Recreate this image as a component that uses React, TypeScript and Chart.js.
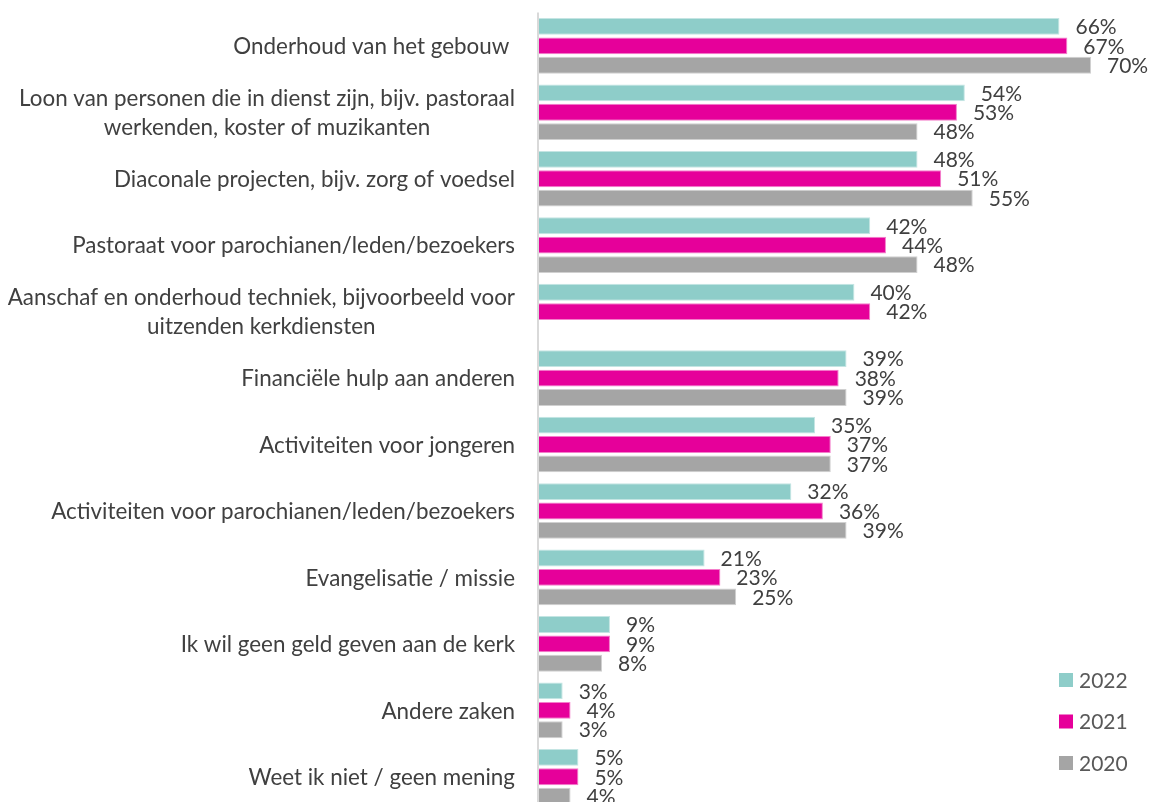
import React, { useEffect, useRef } from "react";
import { Chart, registerables } from "chart.js";

Chart.register(...registerables);

const categories: string[][] = [
  ["Onderhoud van het gebouw "],
  ["Loon van personen die in dienst zijn, bijv. pastoraal", "werkenden, koster of muzikanten"],
  ["Diaconale projecten, bijv. zorg of voedsel"],
  ["Pastoraat voor parochianen/leden/bezoekers"],
  ["Aanschaf en onderhoud techniek, bijvoorbeeld voor", "uitzenden kerkdiensten"],
  ["Financiële hulp aan anderen"],
  ["Activiteiten voor jongeren"],
  ["Activiteiten voor parochianen/leden/bezoekers"],
  ["Evangelisatie / missie"],
  ["Ik wil geen geld geven aan de kerk"],
  ["Andere zaken"],
  ["Weet ik niet / geen mening"],
];

const seriesLabels = ["2022", "2021", "2020"];
const values2022: (number | null)[] = [66, 54, 48, 42, 40, 39, 35, 32, 21, 9, 3, 5];
const values2021: (number | null)[] = [67, 53, 51, 44, 42, 38, 37, 36, 23, 9, 4, 5];
const values2020: (number | null)[] = [70, 48, 55, 48, null, 39, 37, 39, 25, 8, 3, 4];

const colors = ["#8ECDC9", "#E6009A", "#A5A5A5"];
const borderColors = ["#C4E5E3", "#F47FCB", "#D0D0D0"];

const FONT = "Lato, 'Open Sans', sans-serif";
const CAT_FONT_SIZE = 22.4;
const LABEL_FONT_SIZE = 21;
const TEXT_COLOR = "#404040";

const overlayPlugin = {
  id: "overlay",
  beforeDatasetsDraw(chart: any) {
    const { ctx, chartArea } = chart;
    ctx.save();
    ctx.strokeStyle = "#D9D9D9";
    ctx.lineWidth = 2;
    ctx.beginPath();
    ctx.moveTo(chartArea.left - 1, chartArea.top);
    ctx.lineTo(chartArea.left - 1, chart.height);
    ctx.stroke();
    ctx.restore();
  },
  afterDatasetsDraw(chart: any) {
    const { ctx, chartArea } = chart;
    const yScale = chart.scales.y;
    ctx.save();
    ctx.fillStyle = TEXT_COLOR;
    ctx.textBaseline = "middle";

    // category labels
    ctx.font = `${CAT_FONT_SIZE}px ${FONT}`;
    const rightEdge = chartArea.left - 24;
    const lineHeight = 29;
    categories.forEach((lines, i) => {
      const y = yScale.getPixelForTick(i);
      const maxW = Math.max(...lines.map((l) => ctx.measureText(l).width));
      const cx = rightEdge - maxW / 2;
      ctx.textAlign = "center";
      lines.forEach((line, j) => {
        ctx.fillText(line, cx, y + 1 + (j - (lines.length - 1) / 2) * lineHeight);
      });
    });

    // data labels
    ctx.font = `${LABEL_FONT_SIZE}px ${FONT}`;
    ctx.textAlign = "left";
    chart.data.datasets.forEach((ds: any, di: number) => {
      const meta = chart.getDatasetMeta(di);
      meta.data.forEach((el: any, idx: number) => {
        const v = ds.data[idx];
        if (v === null || v === undefined) return;
        ctx.fillText(`${v}%`, el.x + 16, el.y + 1);
      });
    });

    // legend
    const legendX = 1059;
    const legendY0 = 680;
    const legendStep = 41.5;
    chart.data.datasets.forEach((ds: any, di: number) => {
      const y = legendY0 + di * legendStep;
      ctx.fillStyle = ds.backgroundColor;
      ctx.fillRect(legendX, y - 7, 14, 14);
      ctx.fillStyle = "#595959";
      ctx.fillText(ds.label, legendX + 20, y + 1);
    });
    ctx.restore();
  },
};

export default function App() {
  const canvasRef = useRef<HTMLCanvasElement | null>(null);

  useEffect(() => {
    if (!canvasRef.current) return;
    const chart = new Chart(canvasRef.current, {
      type: "bar",
      data: {
        labels: categories,
        datasets: [values2022, values2021, values2020].map((d, i) => ({
          label: seriesLabels[i],
          data: d,
          backgroundColor: colors[i],
          borderColor: borderColors[i],
          borderWidth: 1,
          barPercentage: 0.87,
          categoryPercentage: 0.876,
        })),
      },
      options: {
        indexAxis: "y",
        animation: false,
        responsive: false,
        devicePixelRatio: 1,
        layout: { padding: { left: 539, right: 60, top: 12.6, bottom: 2 } },
        plugins: { legend: { display: false }, tooltip: { enabled: false } },
        scales: {
          x: { display: false, min: 0, max: 70 },
          y: { display: false },
        },
      },
      plugins: [overlayPlugin],
    } as any);
    return () => chart.destroy();
  }, []);

  return (
    <div
      style={{
        position: "fixed",
        left: 0,
        top: 0,
        width: 1151,
        height: 802,
        overflow: "hidden",
        background: "#fff",
      }}
    >
      <canvas ref={canvasRef} width={1151} height={812} style={{ display: "block" }} />
    </div>
  );
}
